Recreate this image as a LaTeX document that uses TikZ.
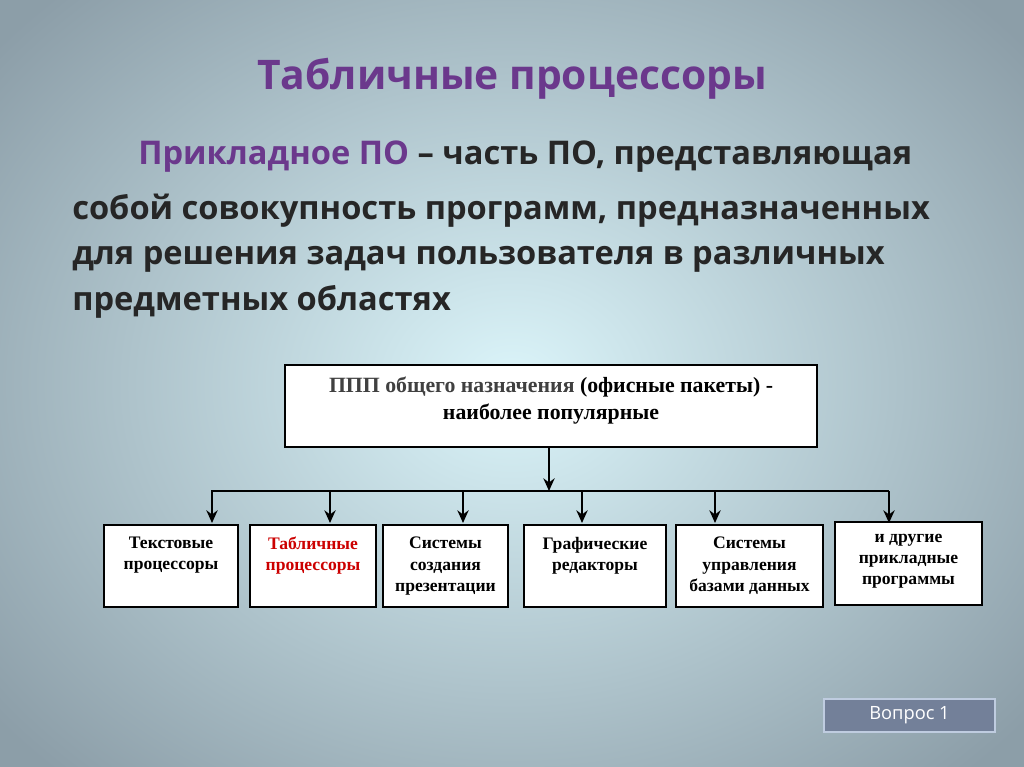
\documentclass[tikz,border=0pt]{standalone}
\usepackage{fontspec}
\usetikzlibrary{arrows.meta}
\setmainfont{Liberation Serif}
\newfontfamily\hd{Open Sans}
\begin{document}
\begin{tikzpicture}[x=0.025cm,y=-0.025cm,
  ar/.style={line width=2pt,-{Stealth[length=9pt,width=8pt]}}]
\useasboundingbox (0,0) rectangle (1024,767);
\shade[inner color={rgb,1:red,0.86;green,0.96;blue,0.98},outer color={rgb,1:red,0.55;green,0.62;blue,0.66}] (-150,-150) rectangle (1174,917);
\definecolor{pur}{rgb}{0.42,0.22,0.55}
\definecolor{dk}{rgb}{0.15,0.15,0.15}
\node[anchor=base,text=pur,font=\hd\fontsize{29}{34}\selectfont\bfseries] (t) at (512,90) {Табличные процессоры};
\begin{scope}[every node/.style={anchor=base west,inner sep=0pt,text=dk,font=\hd\fontsize{23.2}{26}\selectfont\bfseries}]
\node (l1) at (138,165) {\textcolor{pur}{Прикладное ПО} – часть ПО, представляющая};
\node (l2) at (72,220) {собой совокупность программ, предназначенных};
\node (l3) at (72,265) {для решения задач пользователя в различных};
\node (l4) at (72,310) {предметных областях};
\end{scope}
\draw[line width=2pt,fill=white] (285,365) rectangle (817,447);
\node[anchor=north,align=center,inner sep=0pt,font=\fontsize{15.5}{19}\selectfont\bfseries] (top) at (551,377) {\textcolor{black!75}{ППП общего назначения} (офисные пакеты) -\\наиболее популярные};
\coordinate (tb) at (549,447);
\coordinate (j) at (549,491);
\coordinate (hl) at (211,491);
\coordinate (hr) at (889,491);
\draw[ar] (tb) -- (j);
\draw[line width=2pt] (hl) -- (hr);
\foreach \n/\a/\b/\c/\d/\t in {b1/104/525/238/607/{Текстовые\\процессоры},b2/250/525/376/607/{\textcolor{red!80!black}{Табличные}\\\textcolor{red!80!black}{процессоры}},b3/383/525/508/607/{Системы\\создания\\презентации},b4/524/525/666/607/{Графические\\редакторы},b5/676/525/823/607/{Системы\\управления\\базами данных},b6/835/522/982/605/{и другие\\прикладные\\программы}}{
 \draw[line width=2pt,fill=white] (\a,\b) rectangle (\c,\d);
 \node[anchor=north,align=center,font=\fontsize{12.5}{15}\selectfont\bfseries,inner sep=0pt] (\n) at ({(\a+\c)/2},\b+12) {\t};
}
\foreach \x/\n in {212/b1,330/b2,463/b3,582/b4,715/b5,889/b6}{\draw[ar] (\x,491) -- (\x,523);}
\node[draw={rgb,1:red,0.75;green,0.8;blue,0.88},line width=1pt,fill={rgb,1:red,0.45;green,0.5;blue,0.6},minimum width=171*0.025cm,minimum height=33*0.025cm,text=white,font=\hd\fontsize{13}{15}\selectfont] (q) at (909.5,715.5) {Вопрос 1};
\end{tikzpicture}
\end{document}
